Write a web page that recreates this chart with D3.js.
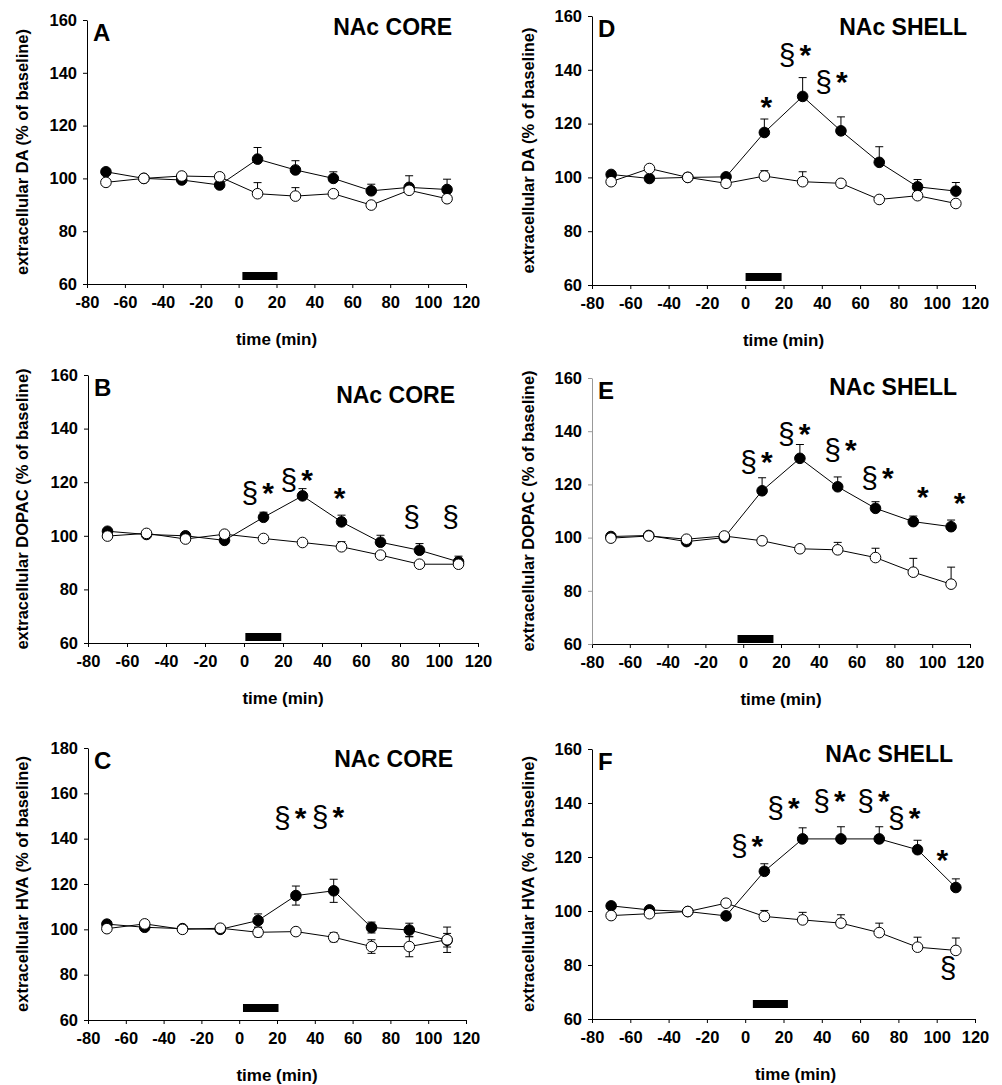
<!DOCTYPE html>
<html>
<head>
<meta charset="utf-8">
<script src="https://cdn.jsdelivr.net/npm/d3@7"></script>
<style>
  body { margin: 0; background: #fff; }
  text { font-family: "Liberation Sans", Arial, sans-serif; }
</style>
</head>
<body>
<svg id="fig" width="1002" height="1085"></svg>
<script>
// sampling times (min) and axis ticks
const times = [-70, -50, -30, -10, 10, 30, 50, 70, 90, 110];
const xTicks = [-80, -60, -40, -20, 0, 20, 40, 60, 80, 100, 120];
const yTicks160 = [60, 80, 100, 120, 140, 160];
const yTicks180 = [60, 80, 100, 120, 140, 160, 180];

// A - DA, NAc core
const daCoreDrug    = [102.5, 100, 99.4, 97.5, 107.3, 103.2, 100, 95.3, 96.6, 95.8];
const daCoreDrugErr = [0, 0, 0, 0, 4.4, 3.5, 2.5, 2.5, 4.4, 3.9];
const daCoreCtrl    = [98.5, 100, 100.9, 100.6, 94.2, 93.3, 94.2, 89.9, 95.5, 92.3];
const daCoreCtrlErr = [0, 0, 0, 0, 4.2, 3.2, 0, 0, 0, 0];

// D - DA, NAc shell
const daShellDrug    = [101.1, 99.6, 100, 100.2, 116.7, 130.1, 117.3, 105.6, 96.5, 94.9];
const daShellDrugErr = [0, 0, 0, 0, 5, 7, 5.2, 5.8, 2.7, 3.2];
const daShellCtrl    = [98.4, 103.3, 100, 97.8, 100.5, 98.4, 97.8, 91.8, 93.2, 90.3];
const daShellCtrlErr = [0, 0, 1.5, 0, 2, 3.7, 0, 0, 0, 0];

// B - DOPAC, NAc core
const dopacCoreDrug    = [101.7, 100.5, 100, 98.3, 106.9, 114.9, 105.2, 97.6, 94.6, 90.3];
const dopacCoreDrugErr = [0, 0, 0, 0, 1.9, 2.7, 2.5, 2.6, 2.5, 2.1];
const dopacCoreCtrl    = [99.9, 100.9, 98.8, 100.6, 99, 97.5, 95.9, 92.8, 89.4, 89.4];
const dopacCoreCtrlErr = [0, 0, 0, 0, 0, 0, 1.9, 0, 0, 0];

// E - DOPAC, NAc shell
const dopacShellDrug    = [100.4, 100.8, 98.5, 100, 117.6, 129.8, 119.1, 111, 106, 104.1];
const dopacShellDrugErr = [0, 0, 0, 0, 4.9, 5.2, 3.7, 2.5, 2.1, 2.5];
const dopacShellCtrl    = [99.8, 100.6, 99.4, 100.6, 98.8, 95.8, 95.4, 92.5, 87, 82.5];
const dopacShellCtrlErr = [0, 0, 0, 0, 0, 0, 2.8, 3.5, 5.2, 6.4];

// C - HVA, NAc core (error bars both ways)
const hvaCoreDrug    = [102.3, 100.9, 100.3, 100, 103.9, 114.9, 117, 100.8, 99.7, 95.2];
const hvaCoreDrugErr = [0, 0, 0, 0, 2.9, 4.2, 5.1, 2.4, 3, 3];
const hvaCoreCtrl    = [100.3, 102.4, 100, 100.5, 98.7, 99, 96.5, 92.4, 92.4, 95.4];
const hvaCoreCtrlErr = [0, 0, 0, 0, 2, 0, 2, 3, 4.5, 5.6];

// F - HVA, NAc shell
const hvaShellDrug    = [101.9, 100.4, 99.8, 98.2, 114.7, 126.7, 126.7, 126.7, 122.7, 108.7];
const hvaShellDrugErr = [0, 0, 0, 0, 2.8, 4.1, 4.5, 4.5, 3.5, 3.2];
const hvaShellCtrl    = [98.3, 99, 99.8, 102.9, 98, 96.7, 95.5, 92, 86.6, 85.4];
const hvaShellCtrlErr = [0, 0, 0, 0, 2.2, 2.8, 3.1, 3.5, 3.7, 4.6];

// treatment bars (min)
const barA = [2, 20.5], barD = [0.2, 19], barB = [0.7, 19.1];
const barE = [-3, 16], barC = [2, 20.8], barF = [4, 22.3];

// significance marks: [time, value, text]
const marksA = [];
const marksD = [[11, 126.3, "*"], [26, 145.5, "§*"], [45, 135.6, "§*"]];
const marksB = [[7, 115.8, "§*"], [27, 120.8, "§*"], [49, 114, "*"], [86, 107, "§"], [106, 107, "§"]];
const marksE = [[7, 128.5, "§*"], [27, 139, "§*"], [51.5, 132.9, "§*"], [71, 122.3, "§*"], [95, 115.4, "*"], [114.5, 112.9, "*"]];
const marksC = [[27, 149, "§*"], [47, 149.5, "§*"]];
const marksF = [[1, 123.9, "§*"], [20, 138, "§*"], [44, 140.6, "§*"], [67, 140.6, "§*"], [83, 134.4, "§*"], [103, 119, "*"], [106, 78.8, "§"]];

const panels = [
  { letter: "A", region: "NAc CORE", ylab: "extracellular DA (% of baseline)",
    x0: 87, x1: 466, y0: 20, y1: 284, yMax: 160, yTicks: yTicks160,
    drug: daCoreDrug, drugErr: daCoreDrugErr, ctrl: daCoreCtrl, ctrlErr: daCoreCtrlErr,
    bar: barA, barLift: 4, marks: marksA, titleDx: -14, titleDy: 15, labX: 22, axisColor: "#000", both: false, timeDx: 0 },
  { letter: "D", region: "NAc SHELL", ylab: "extracellular DA (% of baseline)",
    x0: 592, x1: 975, y0: 16, y1: 285, yMax: 160, yTicks: yTicks160,
    drug: daShellDrug, drugErr: daShellDrugErr, ctrl: daShellCtrl, ctrlErr: daShellCtrlErr,
    bar: barD, barLift: 4, marks: marksD, titleDx: -8, titleDy: 19, labX: 528, axisColor: "#000", both: false, timeDx: 0 },
  { letter: "B", region: "NAc CORE", ylab: "extracellular DOPAC (% of baseline)",
    x0: 88, x1: 478, y0: 375, y1: 643, yMax: 160, yTicks: yTicks160,
    drug: dopacCoreDrug, drugErr: dopacCoreDrugErr, ctrl: dopacCoreCtrl, ctrlErr: dopacCoreCtrlErr,
    bar: barB, barLift: 2, marks: marksB, titleDx: -23, titleDy: 28, labX: 22, axisColor: "#000", both: false, timeDx: 0 },
  { letter: "E", region: "NAc SHELL", ylab: "extracellular DOPAC (% of baseline)",
    x0: 592, x1: 970, y0: 378, y1: 644, yMax: 160, yTicks: yTicks160,
    drug: dopacShellDrug, drugErr: dopacShellDrugErr, ctrl: dopacShellCtrl, ctrlErr: dopacShellCtrlErr,
    bar: barE, barLift: 1, marks: marksE, titleDx: -13, titleDy: 17, labX: 528, axisColor: "#999", both: false, timeDx: 0 },
  { letter: "C", region: "NAc CORE", ylab: "extracellular HVA (% of baseline)",
    x0: 88, x1: 466, y0: 748, y1: 1020, yMax: 180, yTicks: yTicks180,
    drug: hvaCoreDrug, drugErr: hvaCoreDrugErr, ctrl: hvaCoreCtrl, ctrlErr: hvaCoreCtrlErr,
    bar: barC, barLift: 8, marks: marksC, titleDx: -13, titleDy: 19, labX: 22, axisColor: "#000", both: true, timeDx: 0 },
  { letter: "F", region: "NAc SHELL", ylab: "extracellular HVA (% of baseline)",
    x0: 592, x1: 975, y0: 749, y1: 1019, yMax: 160, yTicks: yTicks160,
    drug: hvaShellDrug, drugErr: hvaShellDrugErr, ctrl: hvaShellCtrl, ctrlErr: hvaShellCtrlErr,
    bar: barF, barLift: 11, marks: marksF, titleDx: -22, titleDy: 13, labX: 528, axisColor: "#000", both: false, timeDx: 12 }
];

const svg = d3.select("#fig");
const fam = "'Liberation Sans', Arial, sans-serif";

panels.forEach(function (p) {
  const x = d3.scaleLinear().domain([-80, 120]).range([p.x0, p.x1]);
  const y = d3.scaleLinear().domain([60, p.yMax]).range([p.y1, p.y0]);
  const g = svg.append("g");

  // axes (plain hyphen for negatives, like the original)
  const xAxis = g.append("g")
    .attr("transform", "translate(0," + p.y1 + ")")
    .call(d3.axisBottom(x).tickValues(xTicks).tickFormat(function (d) { return String(d); })
      .tickSize(4).tickSizeOuter(0).tickPadding(8));
  const yAxis = g.append("g")
    .attr("transform", "translate(" + p.x0 + ",0)")
    .call(d3.axisLeft(y).tickValues(p.yTicks).tickFormat(function (d) { return String(d); })
      .tickSize(4).tickSizeOuter(0).tickPadding(6));
  [xAxis, yAxis].forEach(function (a) {
    a.attr("font-family", null).attr("font-size", null);
    a.selectAll("text")
      .style("font-family", fam).style("font-size", "16.5px").style("font-weight", "bold")
      .attr("fill", "#000");
  });
  xAxis.selectAll("line,path").attr("stroke", "#000");
  yAxis.selectAll("line,path").attr("stroke", p.axisColor);

  // axis titles
  g.append("text")
    .attr("transform", "translate(" + p.labX + "," + ((p.y0 + p.y1) / 2) + ") rotate(-90)")
    .attr("text-anchor", "middle").attr("dominant-baseline", "central")
    .style("font-size", "16.5px").style("font-weight", "bold")
    .text(p.ylab);
  g.append("text")
    .attr("x", (p.x0 + p.x1) / 2 + p.timeDx).attr("y", p.y1 + 61)
    .attr("text-anchor", "middle")
    .style("font-size", "17px").style("font-weight", "bold")
    .text("time (min)");

  // panel letter and region
  g.append("text")
    .attr("x", p.x0 + 6).attr("y", p.y0 + 21)
    .style("font-size", "24px").style("font-weight", "bold")
    .text(p.letter);
  g.append("text")
    .attr("x", p.x1 + p.titleDx).attr("y", p.y0 + p.titleDy)
    .attr("text-anchor", "end")
    .style("font-size", "23px").style("font-weight", "bold")
    .text(p.region);

  // treatment bar
  g.append("rect")
    .attr("x", x(p.bar[0])).attr("width", x(p.bar[1]) - x(p.bar[0]))
    .attr("y", p.y1 - p.barLift - 8).attr("height", 8)
    .attr("fill", "#000");

  const drugPts = times.map(function (t, i) { return { t: t, v: p.drug[i], e: p.drugErr[i] }; });
  const ctrlPts = times.map(function (t, i) { return { t: t, v: p.ctrl[i], e: p.ctrlErr[i] }; });

  // error bars
  [drugPts, ctrlPts].forEach(function (pts) {
    const eb = g.append("g").attr("stroke", "#000").attr("stroke-width", 1);
    pts.filter(function (d) { return d.e > 0; }).forEach(function (d) {
      const lo = p.both ? d.v - d.e : d.v;
      eb.append("line").attr("x1", x(d.t)).attr("x2", x(d.t)).attr("y1", y(lo)).attr("y2", y(d.v + d.e));
      eb.append("line").attr("x1", x(d.t) - 4).attr("x2", x(d.t) + 4).attr("y1", y(d.v + d.e)).attr("y2", y(d.v + d.e));
      if (p.both) {
        eb.append("line").attr("x1", x(d.t) - 4).attr("x2", x(d.t) + 4).attr("y1", y(d.v - d.e)).attr("y2", y(d.v - d.e));
      }
    });
  });

  // lines
  const line = d3.line().x(function (d) { return x(d.t); }).y(function (d) { return y(d.v); });
  g.append("path").datum(drugPts).attr("d", line).attr("fill", "none").attr("stroke", "#000").attr("stroke-width", 1);
  g.append("path").datum(ctrlPts).attr("d", line).attr("fill", "none").attr("stroke", "#000").attr("stroke-width", 1);

  // markers: filled (drug) then open (control) on top
  g.selectAll(".dot-drug").data(drugPts).enter().append("circle")
    .attr("cx", function (d) { return x(d.t); }).attr("cy", function (d) { return y(d.v); })
    .attr("r", 5.3).attr("fill", "#000").attr("stroke", "#000");
  g.selectAll(".dot-ctrl").data(ctrlPts).enter().append("circle")
    .attr("cx", function (d) { return x(d.t); }).attr("cy", function (d) { return y(d.v); })
    .attr("r", 5.3).attr("fill", "#fff").attr("stroke", "#000");

  // significance marks
  p.marks.forEach(function (m) {
    const t = g.append("text")
      .attr("x", x(m[0])).attr("y", y(m[1]) + 10)
      .attr("text-anchor", "middle").style("font-size", "30px");
    m[2].split("").forEach(function (ch, k) {
      t.append("tspan")
        .style("font-weight", ch === "*" ? "bold" : "normal")
        .attr("dx", k > 0 ? 4 : 0)
        .text(ch);
    });
  });
});
</script>
</body>
</html>
